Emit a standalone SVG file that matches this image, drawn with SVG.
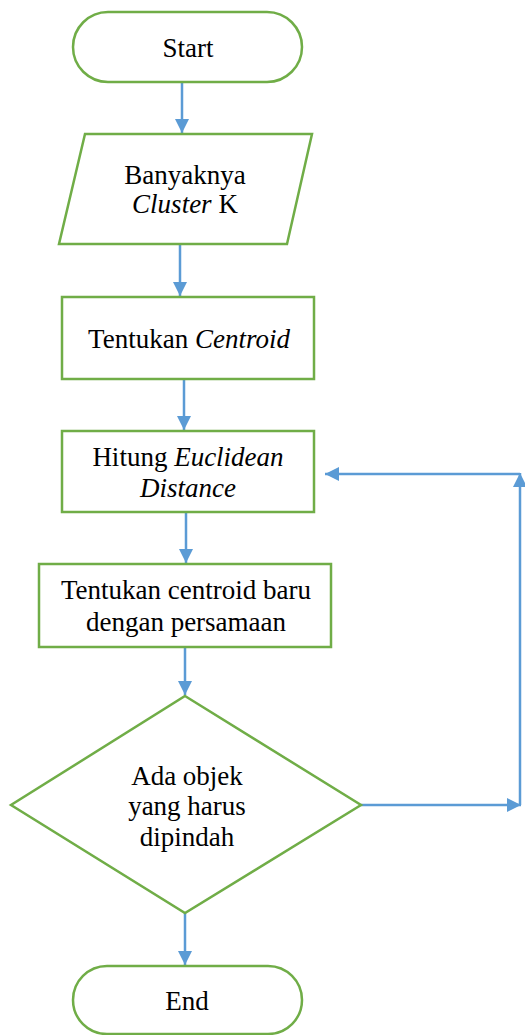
<svg xmlns="http://www.w3.org/2000/svg" width="525" height="1035" viewBox="0 0 525 1035">
<style>
.shape{fill:#fff;stroke:#70AD47;stroke-width:2.5}
.conn{fill:none;stroke:#5B9BD5;stroke-width:2.5}
text{font-family:"Liberation Serif","Times New Roman",serif;font-size:27px;fill:#000;text-anchor:middle}
.i{font-style:italic}
</style>
<defs>
<marker id="ah" viewBox="0 0 10 10" refX="10" refY="5" markerWidth="5.6" markerHeight="5.6" markerUnits="strokeWidth" orient="auto">
<path d="M0,0 L10,5 L0,10 z" fill="#5B9BD5"/>
</marker>
</defs>
<rect width="525" height="1035" fill="#fff"/>
<g id="connectors">
<line class="conn" x1="182" y1="82" x2="182" y2="133" marker-end="url(#ah)"/>
<line class="conn" x1="180" y1="245" x2="180" y2="296" marker-end="url(#ah)"/>
<line class="conn" x1="184" y1="379" x2="184" y2="430" marker-end="url(#ah)"/>
<line class="conn" x1="186" y1="512" x2="186" y2="563" marker-end="url(#ah)"/>
<line class="conn" x1="185" y1="647" x2="185" y2="695" marker-end="url(#ah)"/>
<line class="conn" x1="185" y1="913" x2="185" y2="965" marker-end="url(#ah)"/>
<line class="conn" x1="361" y1="805" x2="521" y2="805" marker-end="url(#ah)"/>
<line class="conn" x1="520" y1="805" x2="520" y2="473" marker-end="url(#ah)"/>
<line class="conn" x1="520" y1="474" x2="325" y2="474" marker-end="url(#ah)"/>
</g>
<g id="start">
<rect class="shape" x="73" y="12" width="229" height="70" rx="35" ry="35"/>
<text x="188" y="57">Start</text>
</g>
<g id="input">
<polygon class="shape" points="85,134 312,134 287,244 59,244"/>
<text x="185" y="184">Banyaknya</text>
<text x="185" y="213"><tspan class="i">Cluster</tspan> K</text>
</g>
<g id="centroid">
<rect class="shape" x="62" y="297" width="252" height="82"/>
<text x="189" y="348">Tentukan <tspan class="i">Centroid</tspan></text>
</g>
<g id="euclid">
<rect class="shape" x="62" y="431" width="252" height="81"/>
<text x="188" y="466">Hitung <tspan class="i">Euclidean</tspan></text>
<text x="188" y="497" class="i">Distance</text>
</g>
<g id="newcentroid">
<rect class="shape" x="39" y="564" width="292" height="83"/>
<text x="186" y="599">Tentukan centroid baru</text>
<text x="186" y="631">dengan persamaan</text>
</g>
<g id="decision">
<polygon class="shape" points="185,696 361,805 185,913 11,805"/>
<text x="187" y="785">Ada objek</text>
<text x="187" y="815">yang harus</text>
<text x="187" y="846">dipindah</text>
</g>
<g id="end">
<rect class="shape" x="73" y="966" width="229" height="68" rx="34" ry="34"/>
<text x="187" y="1010">End</text>
</g>
</svg>
